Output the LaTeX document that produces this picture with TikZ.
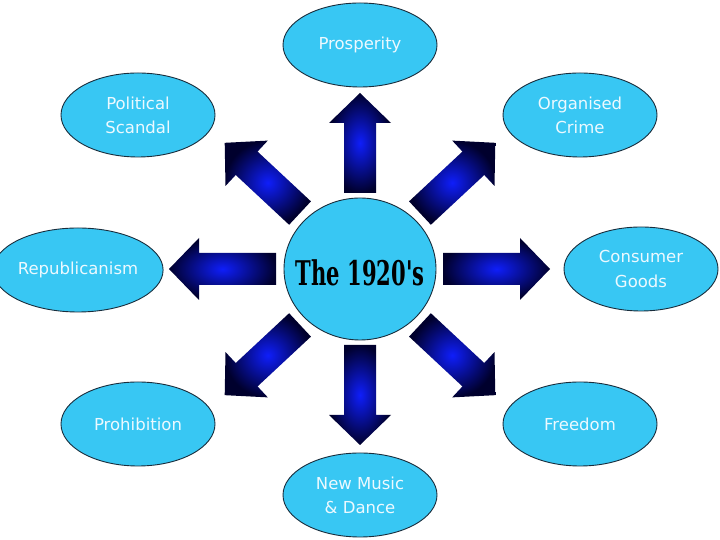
\documentclass[tikz,border=0pt]{standalone}
\usepackage{fontspec}
\usepackage{graphicx}
\usetikzlibrary{shapes.geometric, positioning}
\newfontfamily\labelfont{DejaVu Sans}
\newfontfamily\titlefont{DejaVu Serif}
\definecolor{topicfill}{RGB}{56,199,243}
\definecolor{topicline}{RGB}{25,45,60}
\definecolor{topictext}{RGB}{236,249,255}
\definecolor{arrowmid}{RGB}{15,30,250}
\definecolor{arrowedge}{RGB}{0,0,45}

\tikzset{
  topic/.style={ellipse, draw=topicline, line width=0.9pt, fill=topicfill,
    minimum width=154pt, minimum height=84pt, inner sep=0pt, align=center,
    text=topictext, font=\labelfont\fontsize{16.5}{24}\selectfont},
  hubnode/.style={ellipse, draw=topicline, line width=0.9pt, fill=topicfill,
    minimum width=152pt, minimum height=142pt, inner sep=0pt},
  hubtext/.style={inner sep=0pt, text=black,
    font=\titlefont\bfseries\fontsize{34}{34}\selectfont},
  blockarrow/.style={inner color=arrowmid, outer color=arrowedge}
}

\begin{document}
\begin{tikzpicture}[x=1pt, y=1pt]
  \useasboundingbox[fill=white] (0,0) rectangle (720,540);
  % Centre
  \node[hubnode, label={[hubtext, yshift=-4pt]center:\scalebox{0.62}[1]{The 1920's}}]
    (hub) at (360,271) {};
  % Topics
  \node[topic] (prosperity) at (360,495) {Prosperity};
  \node[topic] (scandal) at (138,425) {Political\\Scandal};
  \node[topic] (crime) at (580,425) {Organised\\Crime};
  \node[topic] (republic) at (78,270) {Republicanism};
  \node[topic] (goods) at (641,271) {Consumer\\Goods};
  \node[topic] (prohibition) at (138,116) {Prohibition};
  \node[topic] (freedom) at (580,116) {Freedom};
  \node[topic] (music) at (360,45) {New Music\\\& Dance};
  % Block arrows out of the centre
  \foreach \ang/\ra/\rb in {90/76/176, 270/76/176, 180/84/191, 0/83/190,
                            43/82/185, 137/82/185, 223/82/185, 317/82/185}{
    \begin{scope}[shift={(hub.center)}, rotate=\ang]
      \shade[blockarrow] (\ra,-16) -- (\rb-30,-16) -- (\rb-30,-31) -- (\rb,0)
        -- (\rb-30,31) -- (\rb-30,16) -- (\ra,16) -- cycle;
    \end{scope}
  }
\end{tikzpicture}
\end{document}
